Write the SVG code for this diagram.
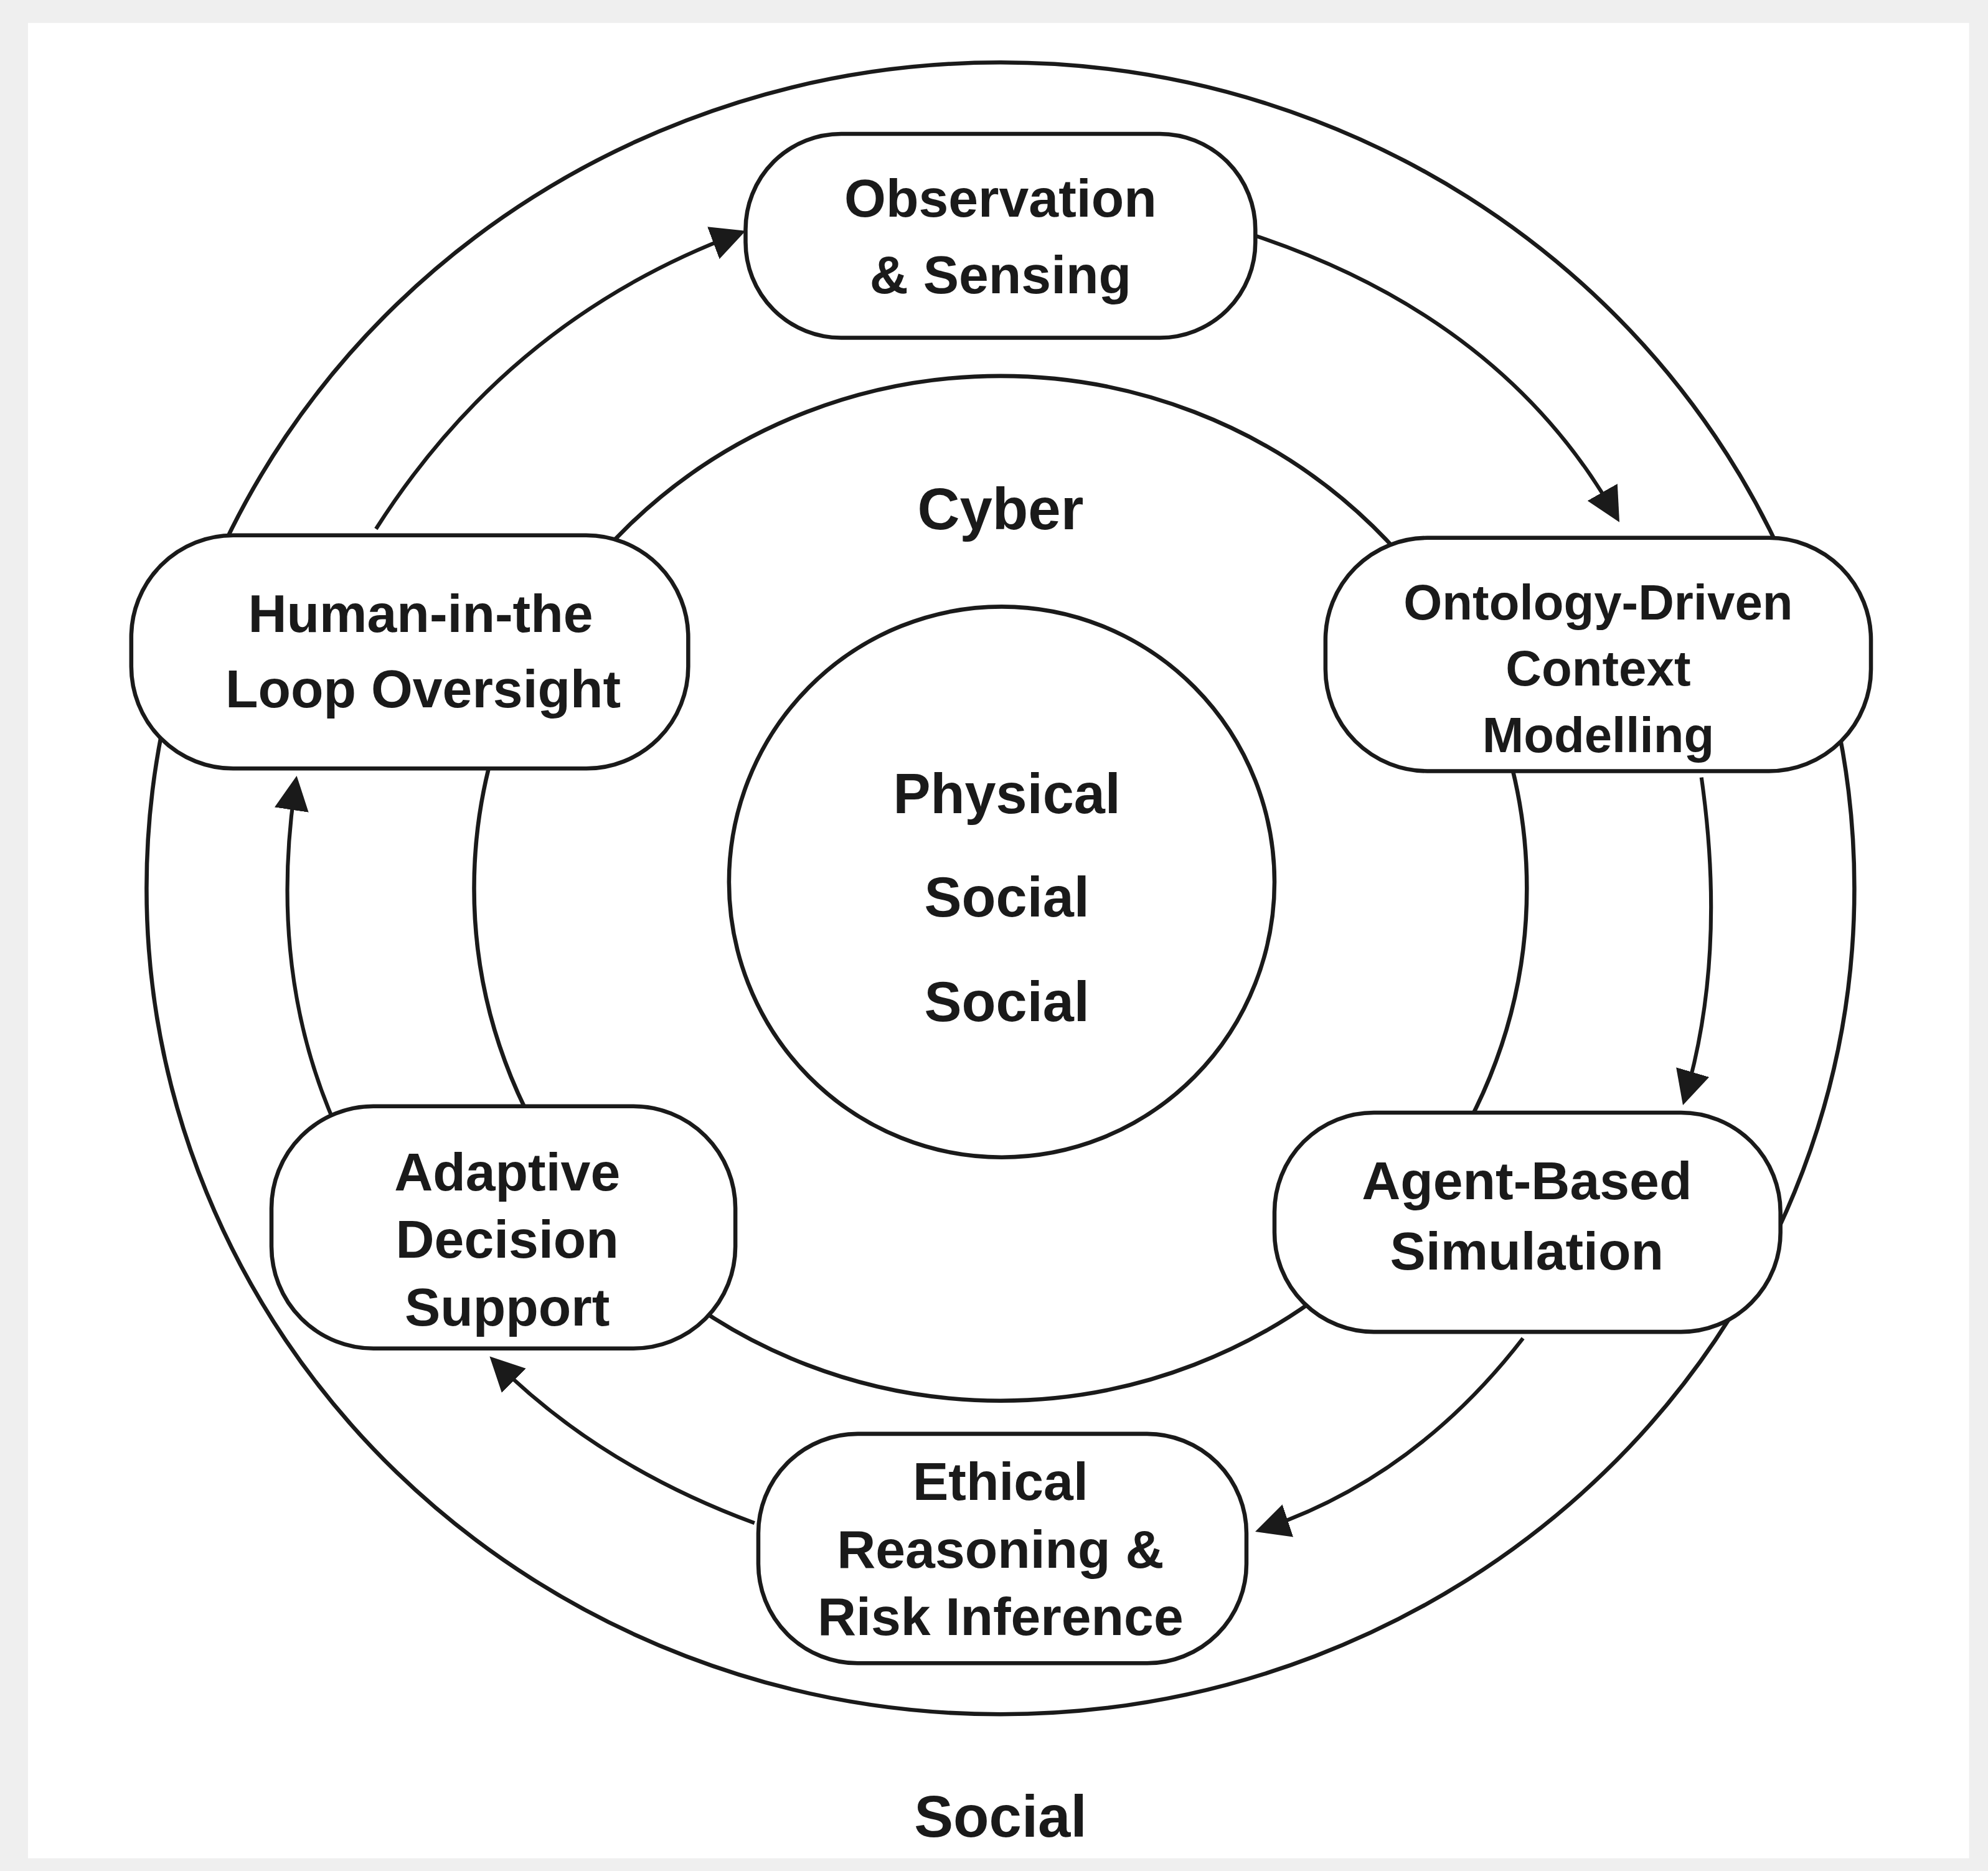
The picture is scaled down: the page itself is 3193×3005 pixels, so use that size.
<svg xmlns="http://www.w3.org/2000/svg" width="3193" height="3005" viewBox="0 0 3193 3005">
<style>
.c{fill:none;stroke:#1a1a1a;stroke-width:3.2}
.n{fill:#fff;stroke:#1a1a1a;stroke-width:3.2}
.t{font-family:"Liberation Sans",Arial,sans-serif;font-weight:bold;fill:#1a1a1a;text-anchor:middle}
.a{fill:none;stroke:#1a1a1a;stroke-width:3;marker-end:url(#ah)}
</style>
<defs><marker id="ah" viewBox="0 0 10 10" refX="8" refY="5" markerWidth="8" markerHeight="8" orient="auto" markerUnits="userSpaceOnUse"><path d="M0,0L10,5L0,10z" fill="#1a1a1a"/></marker>
<marker id="ah2" viewBox="0 0 10 10" refX="8" refY="5" markerWidth="9" markerHeight="9" orient="auto"><path d="M0,0L10,5L0,10z" fill="#1a1a1a"/></marker></defs>
<rect width="3193" height="3005" fill="#efefef"/>
<g transform="scale(2.047)">
<rect x="22" y="18" width="1523" height="1440" fill="#fff"/>
<g id="rings">
<ellipse class="c" cx="785" cy="697" rx="670" ry="648"/>
<ellipse class="c" cx="785" cy="697" rx="413" ry="402"/>
<ellipse class="c" cx="786" cy="692" rx="214" ry="216"/>
</g>
<g id="connectors" fill="none" stroke="#1a1a1a" stroke-width="3">
<path d="M985,185 Q1180,250 1268,405" marker-end="url(#ah2)"/>
<path d="M1335,610 Q1355,750 1322,862" marker-end="url(#ah2)"/>
<path d="M1195,1050 Q1110,1160 990,1200" marker-end="url(#ah2)"/>
<path d="M592,1195 Q470,1150 388,1068" marker-end="url(#ah2)"/>
<path d="M262,880 Q210,760 232,614" marker-end="url(#ah2)"/>
<path d="M295,415 Q400,250 580,183" marker-end="url(#ah2)"/>
</g>
<g id="labels">
<text class="t" x="785" y="415" font-size="46">Cyber</text>
<text class="t" x="790" y="638" font-size="44">Physical</text>
<text class="t" x="790" y="719" font-size="44">Social</text>
<text class="t" x="790" y="801" font-size="44">Social</text>
<text class="t" x="785" y="1441" font-size="46">Social</text>
</g>
<g id="observation"><rect class="n" x="585" y="105" width="400" height="160" rx="75"/>
<text class="t" x="785" y="170" font-size="42">Observation</text><text class="t" x="785" y="230" font-size="42">&amp; Sensing</text></g>
<g id="ontology"><rect class="n" x="1040" y="422" width="428" height="183" rx="80"/>
<text class="t" x="1254" y="486" font-size="39">Ontology-Driven</text><text class="t" x="1254" y="538" font-size="39">Context</text><text class="t" x="1254" y="590" font-size="39">Modelling</text></g>
<g id="agent"><rect class="n" x="1000" y="873" width="397" height="172" rx="78"/>
<text class="t" x="1198" y="941" font-size="42">Agent-Based</text><text class="t" x="1198" y="996" font-size="42">Simulation</text></g>
<g id="ethical"><rect class="n" x="595" y="1125" width="383" height="180" rx="78"/>
<text class="t" x="785" y="1177" font-size="42">Ethical</text><text class="t" x="785" y="1230" font-size="42">Reasoning &amp;</text><text class="t" x="785" y="1283" font-size="42">Risk Inference</text></g>
<g id="adaptive"><rect class="n" x="213" y="868" width="364" height="190" rx="80"/>
<text class="t" x="398" y="934" font-size="42">Adaptive</text><text class="t" x="398" y="987" font-size="42">Decision</text><text class="t" x="398" y="1040" font-size="42">Support</text></g>
<g id="human"><rect class="n" x="103" y="420" width="437" height="183" rx="80"/>
<text class="t" x="330" y="496" font-size="42">Human-in-the</text><text class="t" x="332" y="555" font-size="42">Loop Oversight</text></g>
</g>
</svg>
